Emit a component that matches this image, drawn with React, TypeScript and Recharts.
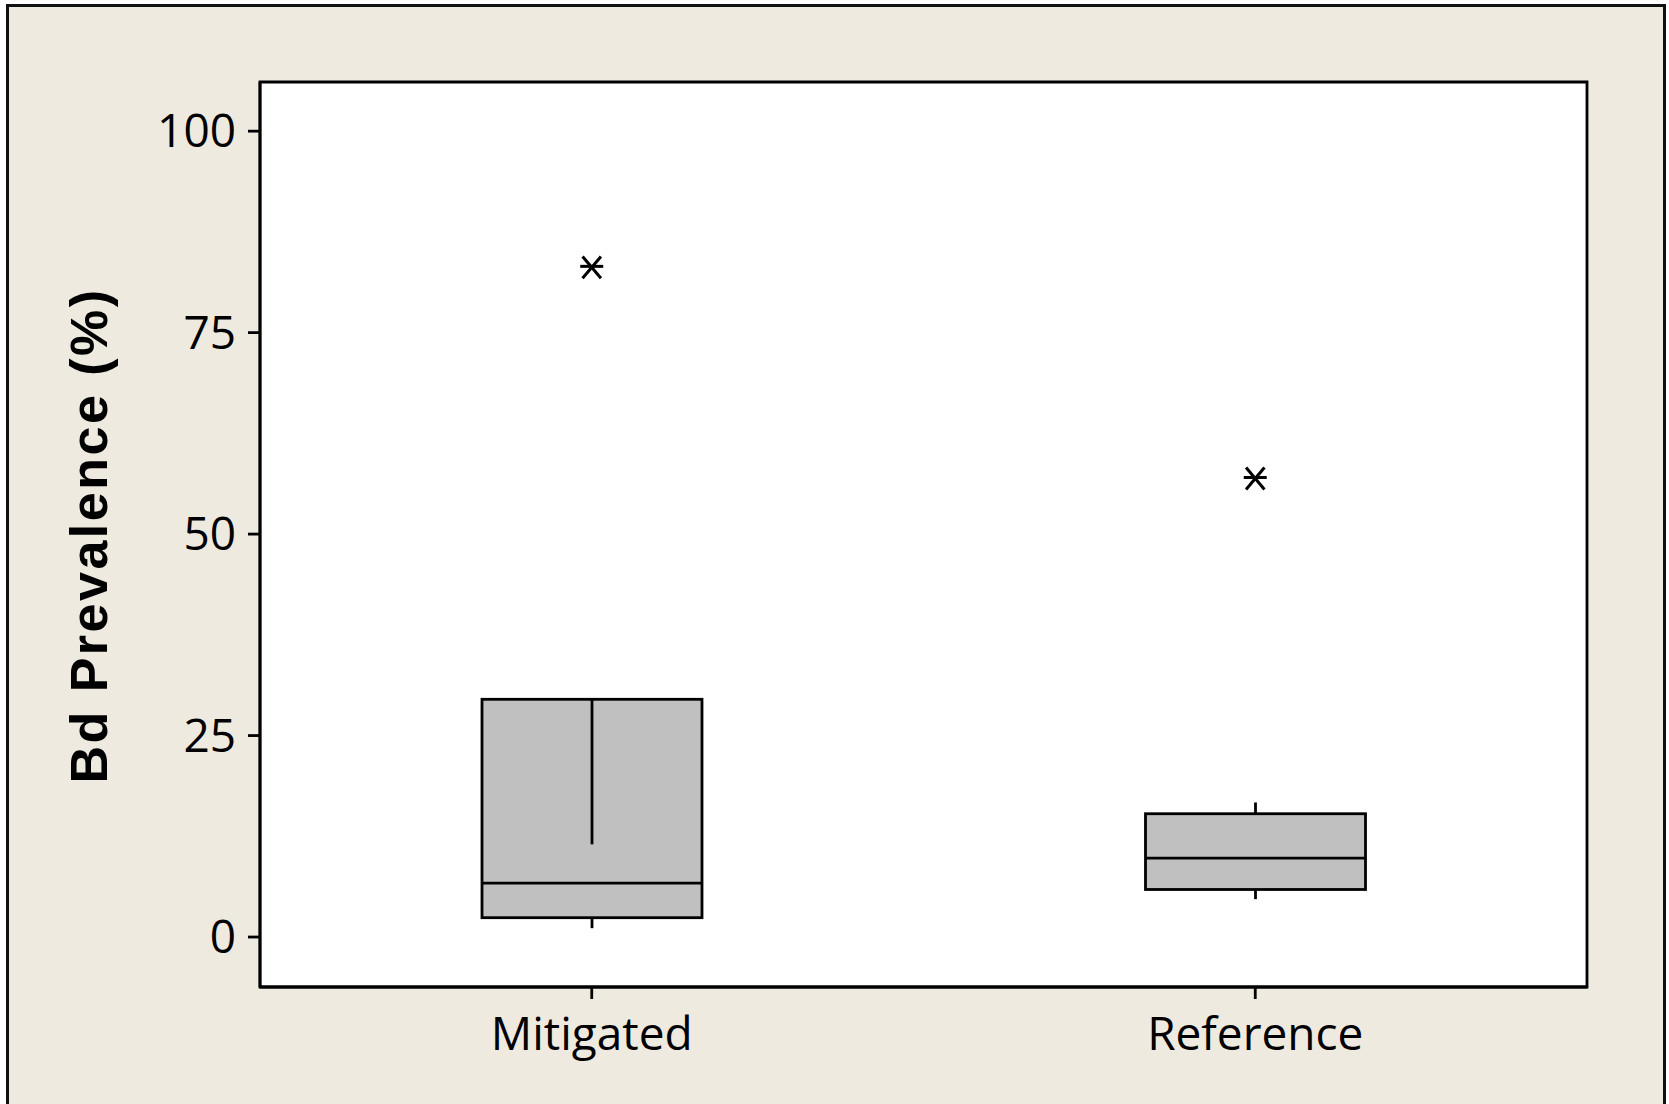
import { ComposedChart, Bar, Scatter, XAxis, YAxis, CartesianGrid, ReferenceArea } from 'recharts'

// box plot summaries
const groups = ['Mitigated', 'Reference']
const lowWhisker = [1.1, 4.7]
const q1 = [2.4, 5.9]
const medians = [6.7, 9.8]
const q3 = [29.5, 15.3]
const highWhisker = [11.5, 16.7]
const outliers = [83.1, 56.9]
const yTicks = [0, 25, 50, 75, 100]
const yDomain = [-6.2, 106.1]

const data = groups.map((g, i) => ({
  group: g,
  box: [q1[i], q3[i]],
  low: lowWhisker[i],
  q1: q1[i],
  median: medians[i],
  q3: q3[i],
  high: highWhisker[i],
  outlier: outliers[i],
}))

const FONT = '"Open Sans", sans-serif'
const LINE = 2.8

function BoxShape(props: any) {
  const { x, y, width, height, payload } = props
  const top = Math.min(y, y + height)
  const h = Math.abs(height)
  const per = h / (payload.q3 - payload.q1)
  const toY = (v: number) => top + (payload.q3 - v) * per
  const cx = x + width / 2
  return (
    <g>
      <rect x={x} y={top} width={width} height={h} fill="#c0c0c0" stroke="#000" strokeWidth={LINE} />
      <line x1={x} x2={x + width} y1={toY(payload.median)} y2={toY(payload.median)} stroke="#000" strokeWidth={LINE} />
      <line x1={cx} x2={cx} y1={toY(payload.q3)} y2={toY(payload.high)} stroke="#000" strokeWidth={LINE} />
      <line x1={cx} x2={cx} y1={toY(payload.q1)} y2={toY(payload.low)} stroke="#000" strokeWidth={LINE} />
    </g>
  )
}

function Asterisk(props: any) {
  const { cx, cy } = props
  const r = 11.5
  const dx = r * 0.8
  const dy = r * 0.95
  return (
    <g stroke="#000" strokeWidth={3} fill="none">
      <line x1={cx - r} x2={cx + r} y1={cy - 1} y2={cy - 1} />
      <line x1={cx - dx} x2={cx + dx} y1={cy - dy} y2={cy + dy} />
      <line x1={cx + dx} x2={cx - dx} y1={cy - dy} y2={cy + dy} />
    </g>
  )
}

function YLabel(props: any) {
  const vb = props.viewBox
  const x = vb.x - 71
  const y = vb.y + vb.height / 2 + 1
  return (
    <text
      x={x}
      y={y}
      transform={`rotate(-90, ${x}, ${y})`}
      textAnchor="middle"
      dominantBaseline="central"
      fontFamily='"Liberation Sans", Arial, sans-serif'
      fontWeight="bold"
      fontSize={52}
      letterSpacing={2.5}
      fill="#000"
    >
      Bd Prevalence  (%)
    </text>
  )
}

export default function App() {
  const axisLine = { stroke: '#000', strokeWidth: LINE }
  const tickStyle = { fontSize: 46, fontFamily: FONT, fill: '#000' }
  return (
    <div style={{ position: 'absolute', left: 0, top: 0, width: 1669, height: 1104, overflow: 'hidden', background: '#fff' }}>
      <div
        style={{
          position: 'absolute',
          left: 6,
          top: 4,
          width: 1660,
          height: 1200,
          boxSizing: 'border-box',
          background: '#eeeae0',
          border: '3px solid #111',
        }}
      />
      <div style={{ position: 'absolute', left: 0, top: 0 }}>
        <ComposedChart width={1669} height={1104} data={data} margin={{ top: 82, right: 82, left: 160, bottom: 37 }}>
          <CartesianGrid fill="#fff" horizontal={false} vertical={false} />
          <XAxis
            dataKey="group"
            type="category"
            height={80}
            axisLine={axisLine}
            tickLine={{ stroke: '#000', strokeWidth: LINE }}
            tickSize={12}
            tickMargin={18}
            tick={tickStyle}
          />
          <YAxis
            type="number"
            domain={yDomain}
            ticks={yTicks}
            width={100}
            axisLine={axisLine}
            tickLine={{ stroke: '#000', strokeWidth: LINE }}
            tickSize={12}
            tickMargin={12}
            tick={tickStyle}
            label={<YLabel />}
          />
          <ReferenceArea y1={yDomain[0]} y2={yDomain[1]} fill="none" fillOpacity={0} stroke="#000" strokeWidth={LINE} ifOverflow="visible" />
          <Bar dataKey="box" barSize={220} shape={(p: any) => <BoxShape {...p} />} isAnimationActive={false} />
          <Scatter dataKey="outlier" shape={(p: any) => <Asterisk {...p} />} isAnimationActive={false} />
        </ComposedChart>
      </div>
    </div>
  )
}
